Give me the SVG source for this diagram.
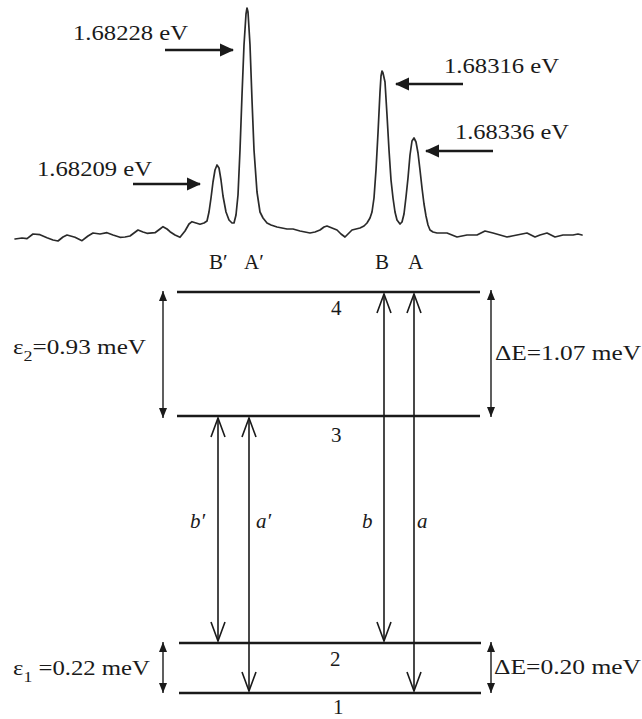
<svg xmlns="http://www.w3.org/2000/svg" width="642" height="719" viewBox="0 0 642 719">
<style>
.t{font-family:"Liberation Serif","Times New Roman",serif;font-size:21px;fill:#1a1a1a}
.i{font-style:italic}
.lvl{stroke:#1a1a1a;stroke-width:2.6;fill:none}
.tr{stroke:#1a1a1a;stroke-width:1.6;fill:none}
.dim{stroke:#1a1a1a;stroke-width:1.4;fill:none}
.lab{stroke:#1a1a1a;stroke-width:2.6;fill:none}
.spec{stroke:#2a2a2a;stroke-width:1.7;fill:none;stroke-linejoin:round;stroke-linecap:round}
</style>
<defs>
<marker id="fill" markerUnits="userSpaceOnUse" markerWidth="14" markerHeight="14" viewBox="0 0 14 14" refX="13" refY="7" orient="auto"><path d="M0,0.5 L14,7 L0,13.5 z" fill="#1a1a1a"/></marker>
<marker id="dimh" markerUnits="userSpaceOnUse" markerWidth="10" markerHeight="10" viewBox="0 0 10 10" refX="10" refY="5" orient="auto-start-reverse"><path d="M0,1 L10,5 L0,9 z" fill="#1a1a1a"/></marker>
<marker id="vee" markerUnits="userSpaceOnUse" markerWidth="22" markerHeight="18" viewBox="0 0 22 18" refX="20" refY="9" orient="auto-start-reverse"><path d="M1,2 L20,9 L1,16" fill="none" stroke="#1a1a1a" stroke-width="1.6"/></marker>
</defs>

<g id="spectrum">
<polyline class="spec" points="15,239 22,238 27,238.7 33,234 40,234.7 47,237.7 53,240 58,241 63,237 67,235 75,237.3 82,240.7 88,236 93,233 100,234 107,232.7 113,235 120,237.3 125,237 130,236 138,230 143,232 147,233.3 155,232.7 160,229 163,226.7 167,229 170,231.7 175,235 180,237.3 185,231 189,224 192,221.7 196,223 200,224.3 204,223 207,221 209,212 211,198 213,182 215,170 217,165 219,168 221,180 223,196 226,212 229,220 232,223 234,223 236,215 238,195 240,150 242,95 244,45 246,14 247,8 248,12 250,45 252,100 254,150 257,192 260,212 263,218 267,223 271,225 277,227 282,228 287,229 293,229 300,231 305,232 310,233 315,232 320,230 324,227 327,226 332,228 337,230 341,234 345,237 348,234 352,230 356,229 360,228 364,226 367,223 370,218 372,212 374,198 376,170 378,133 380,92 381,76 382,71 383,73 385,82 387,115 389,150 391,180 393,198 395,212 397,220 400,224 402,222 404,214 406,197 408,178 410,155 412,141 414,138 416,142 418,153 420,170 422,188 424,204 426,216 428,225 430,230 433,232 437,233 442,233 447,233 452,235 457,237 462,236 467,235 472,235 477,235 481,233 485,231 489,232 493,233 500,235 507,237 512,236 517,235 522,234 527,233 531,235 535,237 540,235 547,233 551,235 555,237 559,236 563,235 568,235 573,235 578,234 582,235"/>
</g>

<g id="peak-labels">
<text class="t" x="73" y="40" textLength="115" lengthAdjust="spacingAndGlyphs">1.68228 eV</text>
<text class="t" x="37" y="176" textLength="115" lengthAdjust="spacingAndGlyphs">1.68209 eV</text>
<text class="t" x="444" y="73" textLength="115" lengthAdjust="spacingAndGlyphs">1.68316 eV</text>
<text class="t" x="455" y="139" textLength="114" lengthAdjust="spacingAndGlyphs">1.68336 eV</text>
<text class="t" x="209" y="269">B′</text>
<text class="t" x="244" y="269">A′</text>
<text class="t" x="375" y="269">B</text>
<text class="t" x="408" y="269">A</text>
</g>

<g id="levels">
<line class="lvl" x1="177" y1="292" x2="480" y2="292"/>
<line class="lvl" x1="177" y1="416" x2="480" y2="416"/>
<line class="lvl" x1="179" y1="643" x2="481" y2="643"/>
<line class="lvl" x1="179" y1="693" x2="481" y2="693"/>
<text class="t" x="331" y="315">4</text>
<text class="t" x="331" y="442">3</text>
<text class="t" x="330" y="666">2</text>
<text class="t" x="333" y="714">1</text>
</g>

<g id="energy-labels">
<text class="t" x="13" y="354" textLength="133" lengthAdjust="spacingAndGlyphs">ε<tspan font-size="15" dy="7">2</tspan><tspan dy="-7">=0.93 meV</tspan></text>
<text class="t" x="13" y="675" textLength="137" lengthAdjust="spacingAndGlyphs">ε<tspan font-size="15" dy="7">1</tspan><tspan dy="-7"> =0.22 meV</tspan></text>
<text class="t" x="495" y="360" textLength="146" lengthAdjust="spacingAndGlyphs">ΔE=1.07 meV</text>
<text class="t" x="494" y="674" textLength="147" lengthAdjust="spacingAndGlyphs">ΔE=0.20 meV</text>
<text class="t i" x="190" y="528">b′</text>
<text class="t i" x="256" y="528">a′</text>
<text class="t i" x="362" y="528">b</text>
<text class="t i" x="417" y="528">a</text>
</g>

<g id="connectors">
<line class="lab" x1="165" y1="50" x2="233" y2="50" marker-end="url(#fill)"/>
<line class="lab" x1="133" y1="184" x2="200" y2="184" marker-end="url(#fill)"/>
<line class="lab" x1="463" y1="84" x2="396" y2="84" marker-end="url(#fill)"/>
<line class="lab" x1="493" y1="151" x2="426" y2="151" marker-end="url(#fill)"/>
<line class="dim" x1="163" y1="291" x2="163" y2="418" marker-start="url(#dimh)" marker-end="url(#dimh)"/>
<line class="dim" x1="163" y1="642" x2="163" y2="693" marker-start="url(#dimh)" marker-end="url(#dimh)"/>
<line class="dim" x1="491" y1="290" x2="491" y2="417" marker-start="url(#dimh)" marker-end="url(#dimh)"/>
<line class="dim" x1="491" y1="642" x2="491" y2="693" marker-start="url(#dimh)" marker-end="url(#dimh)"/>
<line class="tr" x1="218" y1="418" x2="218" y2="641" marker-start="url(#vee)" marker-end="url(#vee)"/>
<line class="tr" x1="249" y1="418" x2="249" y2="691" marker-start="url(#vee)" marker-end="url(#vee)"/>
<line class="tr" x1="384" y1="294" x2="384" y2="641" marker-start="url(#vee)" marker-end="url(#vee)"/>
<line class="tr" x1="414" y1="294" x2="414" y2="691" marker-start="url(#vee)" marker-end="url(#vee)"/>
</g>
</svg>
